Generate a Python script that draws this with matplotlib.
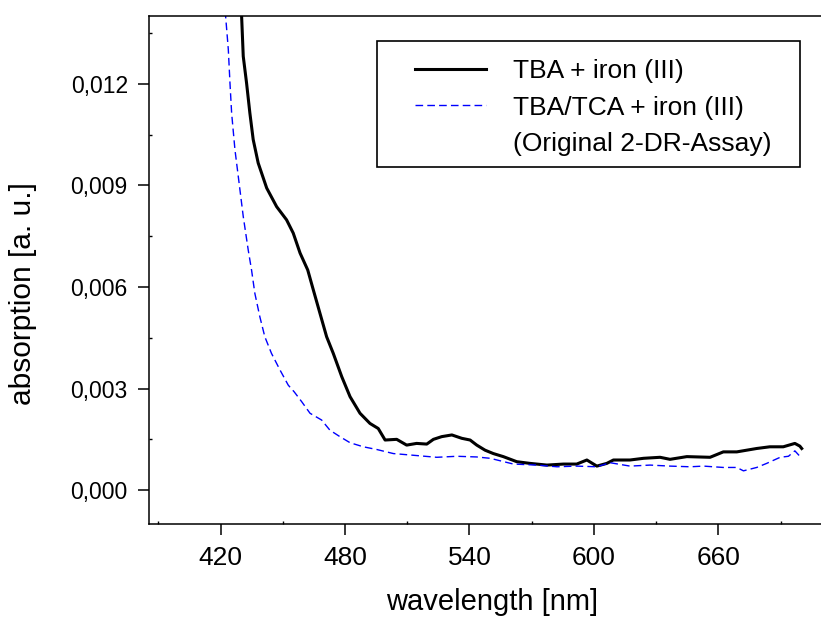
import matplotlib
matplotlib.use("Agg")
import matplotlib.pyplot as plt
from matplotlib.ticker import MultipleLocator, FuncFormatter
from matplotlib.lines import Line2D
from matplotlib.patches import Rectangle

# values
wl_tba = [429.5, 430.1, 430.9, 432.5, 434.1, 435.7, 438.1, 442.2, 447.0, 451.8,
          455.0, 458.3, 462.0, 464.7, 467.9, 471.1, 474.3, 478.4, 482.4, 487.2,
          492.0, 496.0, 499.3, 504.9, 509.7, 514.5, 519.4, 522.6, 526.6, 531.5,
          536.3, 540.3, 543.5, 547.5, 551.5, 556.3, 562.8, 569.2, 577.3, 585.3,
          591.7, 596.6, 601.4, 606.2, 609.4, 617.4, 623.9, 631.9, 636.7, 644.8,
          656.0, 662.4, 668.9, 673.7, 678.5, 684.8, 691.3, 696.9, 699.3, 700.2]
abs_tba = [0.01460, 0.01401, 0.01281, 0.01202, 0.01113, 0.01035, 0.00966, 0.00892, 0.00837, 0.00798,
           0.00759, 0.00700, 0.00650, 0.00591, 0.00522, 0.00453, 0.00404, 0.00335, 0.00276, 0.00227,
           0.00197, 0.00182, 0.00148, 0.00150, 0.00133, 0.00138, 0.00136, 0.00150, 0.00158, 0.00163,
           0.00153, 0.00148, 0.00133, 0.00118, 0.00108, 0.00099, 0.00084, 0.00079, 0.00074, 0.00077,
           0.00077, 0.00089, 0.00071, 0.00079, 0.00089, 0.00089, 0.00094, 0.00097, 0.00091, 0.00099,
           0.00097, 0.00113, 0.00113, 0.00118, 0.00123, 0.00128, 0.00128, 0.00138, 0.00130, 0.00123]

wl_tca = [421.8, 422.4, 423.7, 424.5, 425.3, 426.9, 429.3, 430.9, 433.3, 434.9,
          436.5, 438.9, 441.3, 444.5, 448.6, 452.6, 455.5, 459.1, 463.1, 468.7,
          472.7, 477.5, 482.4, 488.8, 495.3, 503.3, 512.9, 524.2, 533.9, 543.5,
          550.0, 561.2, 572.5, 582.2, 591.7, 601.4, 607.8, 617.4, 627.1, 636.7,
          646.4, 652.8, 662.4, 668.9, 672.1, 678.5, 683.3, 689.8, 693.8, 696.9, 699.3]
abs_tca = [0.01460, 0.01399, 0.01301, 0.01202, 0.01113, 0.01005, 0.00887, 0.00808, 0.00709, 0.00650,
           0.00581, 0.00512, 0.00453, 0.00404, 0.00355, 0.00310, 0.00290, 0.00261, 0.00227, 0.00207,
           0.00177, 0.00158, 0.00140, 0.00128, 0.00120, 0.00108, 0.00103, 0.00097, 0.00100, 0.00098,
           0.00094, 0.00077, 0.00074, 0.00069, 0.00071, 0.00069, 0.00081, 0.00071, 0.00074, 0.00071,
           0.00069, 0.00071, 0.00067, 0.00067, 0.00057, 0.00067, 0.00079, 0.00097, 0.00100, 0.00116, 0.00100]

labels = ["TBA + iron (III)", "TBA/TCA + iron (III)", "(Original 2-DR-Assay)"]

plt.rcParams['font.family'] = ['Liberation Sans', 'DejaVu Sans']

W, H = 821, 617
fig = plt.figure(figsize=(W / 100, H / 100), dpi=100)
ax = fig.add_axes([0.1811, 0.1507, 0.8189, 0.8234])

l1, = ax.plot(wl_tba, abs_tba, color='black', lw=2.2)
l2, = ax.plot(wl_tca, abs_tca, color='#0000ff', lw=1.0, dashes=(5.5, 3))

ax.set_xlim(385.3, 709.5)
ax.set_ylim(-0.001, 0.014)

ax.xaxis.set_major_locator(MultipleLocator(60))
ax.xaxis.set_minor_locator(MultipleLocator(30))
ax.yaxis.set_major_locator(MultipleLocator(0.003))
ax.yaxis.set_minor_locator(MultipleLocator(0.0015))
ax.yaxis.set_major_formatter(FuncFormatter(lambda v, p: f"{v:.3f}".replace('.', ',')))

ax.tick_params(which='major', direction='out', length=8, width=1.1, pad=7)
ax.tick_params(which='minor', direction='in', length=2, width=1.0)
ax.tick_params(axis='x', labelsize=19, pad=8)
ax.tick_params(axis='y', labelsize=16.5)

ax.spines['right'].set_visible(False)
for s in ['left', 'bottom', 'top']:
    ax.spines[s].set_linewidth(1.1)

fig.text(492.5 / W, 1 - 602 / H, "wavelength [nm]", fontsize=21, ha='center', va='center')
fig.text(23 / W, 1 - 293.3 / H, "absorption [a. u.]", fontsize=21.5, rotation=90,
         ha='center', va='center')

# legend entries without frame, box drawn separately
blank = Line2D([], [], linestyle='none')
leg = ax.legend([l1, l2, blank], labels, loc='upper left',
                bbox_to_anchor=(415 / W, 1 - 59 / H), bbox_transform=fig.transFigure,
                borderaxespad=0, borderpad=0, fontsize=19, frameon=False,
                handlelength=2.7, handletextpad=1.0, labelspacing=0.48)
fig.patches.append(Rectangle((377.3 / W, 1 - 166.7 / H), (800 - 377.3) / W, (166.7 - 40.7) / H,
                             transform=fig.transFigure, fill=False, edgecolor='black', lw=1.2))

fig.savefig("out.png", dpi=100)
